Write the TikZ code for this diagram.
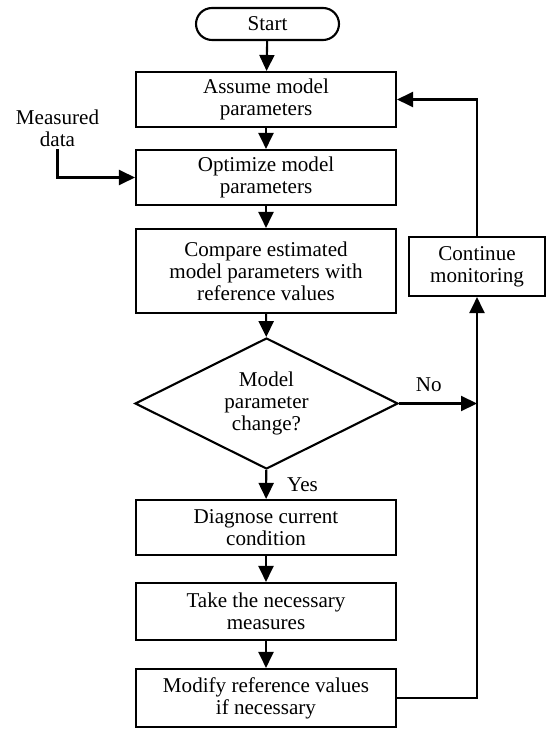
\documentclass[tikz,border=0pt]{standalone}
\usepackage{fontspec}
\setmainfont{Liberation Serif}
\usetikzlibrary{calc}
\usetikzlibrary{arrows.meta}
\usetikzlibrary{shapes.geometric}

\begin{document}
\begin{tikzpicture}[x=0.02cm, y=-0.02cm, line width=1.2pt,
    font=\fontsize{12}{12.5}\selectfont,
    proc/.style={draw, align=center, minimum width=5.2cm, minimum height=1.1cm, inner sep=1pt},
    term/.style={draw, rounded corners=0.32cm, minimum width=2.86cm, minimum height=0.64cm},
    test/.style={draw, diamond, aspect=2, align=center, minimum width=5.26cm, minimum height=2.62cm, inner sep=0pt},
    flow/.style={-{Triangle[length=0.32cm,width=0.3cm]}}]
    \useasboundingbox (0, 0) rectangle (546, 729);
    
    \node[term] (start) at (267.5, 24) {Start};
    \node[proc] (assume) at (266, 99.5) {Assume model\\parameters};
    \node[proc] (optim) at (266, 177.5) {Optimize model\\parameters};
    \node[proc, minimum height=1.68cm] (compare) at (266, 271) {Compare estimated\\model parameters with\\reference values};
    \node[test] (change) at (266.5, 403.5) {Model\\parameter\\change?};
    \node[proc] (diagnose) at (266, 527.5) {Diagnose current\\condition};
    \node[proc, minimum height=1.14cm] (take) at (266, 611.5) {Take the necessary\\measures};
    \node[proc, minimum height=1.16cm] (modify) at (266, 698) {Modify reference values\\if necessary};
    \node[draw, align=center, minimum width=2.72cm, minimum height=1.18cm] (cont) at (477, 266.5) {Continue\\monitoring};
    \node[align=center, inner sep=1pt] (meas) at (57.5, 128) {Measured\\data};
    \coordinate (jn) at (cont.south |- change.east);
    
    \draw[flow] (start) -- (assume);
    \draw[flow] (assume) -- (optim);
    \draw[flow] (optim) -- (compare);
    \draw[flow] (compare) -- (change);
    \draw[flow] (change) -- node[right, xshift=8pt] {Yes} (diagnose);
    \draw[flow] (diagnose) -- (take);
    \draw[flow] (take) -- (modify);
    \draw[flow] (meas.south) |- (optim.west);
    \draw[flow] (change.east) -- node[above, pos=0.38, yshift=3pt] {No} (jn);
    \draw[flow] (modify.east) -| (cont.south);
    \draw[flow] (cont.north) |- (assume.east);
\end{tikzpicture}
\end{document}
